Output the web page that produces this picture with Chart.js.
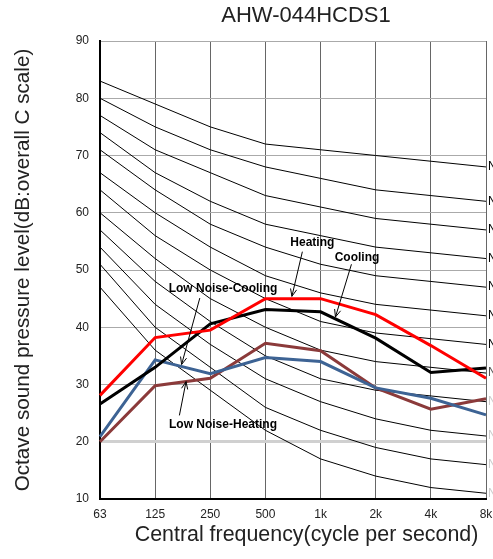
<!DOCTYPE html>
<html>
<head>
<meta charset="utf-8">
<script src="https://cdn.jsdelivr.net/npm/chart.js"></script>
<style> html, body { margin: 0; padding: 0; background: white; } #wrap { width: 493px; height: 559px; } </style>
</head>
<body>
<div id="wrap"><canvas id="myChart"></canvas></div>
<script>
    const freqLabels = ['63', '125', '250', '500', '1k', '2k', '4k', '8k'];

    // measured spectra
    const heating = [28.1, 38.2, 39.5, 45.0, 45.0, 42.2, 36.8, 31.1];
    const cooling = [26.6, 33.0, 40.6, 43.1, 42.7, 38.1, 32.1, 32.9];
    const lowNoiseCooling = [20.9, 34.3, 31.9, 34.7, 34.0, 29.4, 27.6, 24.7];
    const lowNoiseHeating = [20.0, 29.8, 31.1, 37.2, 35.9, 29.4, 25.7, 27.5];

    // NC reference curves
    const nc70 = [83, 79, 75, 72, 71, 70, 69, 68];
    const nc65 = [80, 75, 71, 68, 66, 64, 63, 62];
    const nc60 = [77, 71, 67, 63, 61, 59, 58, 57];
    const nc55 = [74, 67, 62, 58, 56, 54, 53, 52];
    const nc50 = [71, 64, 58, 54, 51, 49, 48, 47];
    const nc45 = [67, 60, 54, 49, 46, 44, 43, 42];
    const nc40 = [64, 56, 50, 45, 41, 39, 38, 37];
    const nc35 = [60, 52, 45, 40, 36, 34, 33, 32];
    const nc30 = [57, 48, 41, 35, 31, 29, 28, 27];
    const nc25 = [54, 44, 37, 31, 27, 24, 22, 21];
    const nc20 = [51, 40, 33, 26, 22, 19, 17, 16];
    const nc15 = [47, 36, 29, 22, 17, 14, 12, 11];
    const ncNames = ['NC-70', 'NC-65', 'NC-60', 'NC-55', 'NC-50', 'NC-45', 'NC-40', 'NC-35', 'NC-30', 'NC-25', 'NC-20', 'NC-15'];
    const ncCurves = [nc70, nc65, nc60, nc55, nc50, nc45, nc40, nc35, nc30, nc25, nc20, nc15];

    const FONT = '"Liberation Sans", Arial, sans-serif';

    const series = [
        { label: 'Heating', data: heating, color: '#ff0000' },
        { label: 'Cooling', data: cooling, color: '#000000' },
        { label: 'Low Noise-Cooling', data: lowNoiseCooling, color: '#3d6394' },
        { label: 'Low Noise-Heating', data: lowNoiseHeating, color: '#8b3a3a' }
    ];

    const datasets = series.map(s => ({
        label: s.label,
        data: s.data,
        borderColor: s.color,
        borderWidth: 3,
        pointRadius: 0,
        tension: 0,
        fill: false
    }));
    ncCurves.forEach((c, i) => datasets.push({
        label: ncNames[i],
        data: c,
        borderColor: '#000000',
        borderWidth: 1,
        pointRadius: 0,
        tension: 0,
        fill: false
    }));

    // callouts: [text, textX, textY, fromX, fromY, toX, toY] in (category index, dB)
    const callouts = [
        ['Heating', 3.85, 54.8, 3.67, 53.2, 3.48, 45.4],
        ['Cooling', 4.66, 52.2, 4.56, 51.0, 4.27, 41.8],
        ['Low Noise-Cooling', 2.23, 46.8, 1.81, 45.1, 1.48, 33.5],
        ['Low Noise-Heating', 2.23, 23.0, 1.44, 24.6, 1.56, 30.5]
    ];

    const extras = {
        id: 'extras',
        afterDraw(chart) {
            const ctx = chart.ctx;
            const xs = chart.scales.x, ys = chart.scales.y;
            const px = v => xs.left + (xs.right - xs.left) * v / (freqLabels.length - 1);
            ctx.save();
            ctx.textBaseline = 'middle';
            ctx.textAlign = 'center';
            ctx.fillStyle = '#222';
            // title
            ctx.font = '22px ' + FONT;
            ctx.fillText('AHW-044HCDS1', 306, 16);
            // x axis title
            ctx.font = '21.4px ' + FONT;
            ctx.fillText('Central frequency(cycle per second)', 306.5, 535);

            // NC labels on the right edge
            ctx.font = '12px ' + FONT;
            ctx.textAlign = 'left';
            ncCurves.forEach((c, i) => {
                ctx.fillStyle = i < 7 ? '#000' : (i === 7 ? '#555' : '#ccc');
                ctx.fillText(ncNames[i], chart.chartArea.right + 2, ys.getPixelForValue(c[c.length - 1]));
            });

            // callouts
            ctx.font = 'bold 12px ' + FONT;
            ctx.textAlign = 'center';
            ctx.fillStyle = '#000';
            ctx.strokeStyle = '#000';
            ctx.lineWidth = 1;
            callouts.forEach(([t, tx, ty, fx, fy, ax, ay]) => {
                ctx.fillText(t, px(tx), ys.getPixelForValue(ty));
                const x1 = px(fx), y1 = ys.getPixelForValue(fy);
                const x2 = px(ax), y2 = ys.getPixelForValue(ay);
                ctx.beginPath();
                ctx.moveTo(x1, y1);
                ctx.lineTo(x2, y2);
                const a = Math.atan2(y2 - y1, x2 - x1);
                const h = 8, w = 0.4;
                ctx.moveTo(x2 - h * Math.cos(a - w), y2 - h * Math.sin(a - w));
                ctx.lineTo(x2, y2);
                ctx.lineTo(x2 - h * Math.cos(a + w), y2 - h * Math.sin(a + w));
                ctx.stroke();
            });
            ctx.restore();
        }
    };

    const ctx = document.getElementById('myChart').getContext('2d');
    new Chart(ctx, {
        type: 'line',
        data: { labels: freqLabels, datasets: datasets },
        options: {
            responsive: true,
            maintainAspectRatio: false,
            animation: false,
            layout: { padding: { left: 0, right: 7, top: 41, bottom: 0 } },
            plugins: {
                legend: { display: false },
                title: { display: false },
                tooltip: { enabled: false }
            },
            scales: {
                x: {
                    offset: false,
                    grid: { color: '#666', lineWidth: 1, drawTicks: false },
                    border: { color: '#000', width: 2 },
                    ticks: { color: '#222', font: { family: FONT, size: 12 }, padding: 8, maxRotation: 0 },
                    afterFit: s => { s.height = 60; s.paddingRight = 0; s.paddingLeft = 0; }
                },
                y: {
                    min: 10, max: 90,
                    grid: {
                        drawTicks: false,
                        color: c => c.tick && c.tick.value === 20 ? '#d0d0d0' : '#aaa',
                        lineWidth: c => c.tick && c.tick.value === 20 ? 3 : 1
                    },
                    border: { color: '#000', width: 2 },
                    ticks: { stepSize: 10, color: '#222', font: { family: FONT, size: 12 }, padding: 11 },
                    title: { display: true, text: 'Octave sound pressure level(dB:overall C scale)', color: '#222',
                             font: { family: FONT, size: 20.7 }, padding: { top: 11, bottom: 0 } },
                    afterFit: s => { s.width = 100; s.paddingTop = 0; s.paddingBottom = 0; }
                }
            }
        },
        plugins: [extras]
    });
</script>
</body>
</html>
